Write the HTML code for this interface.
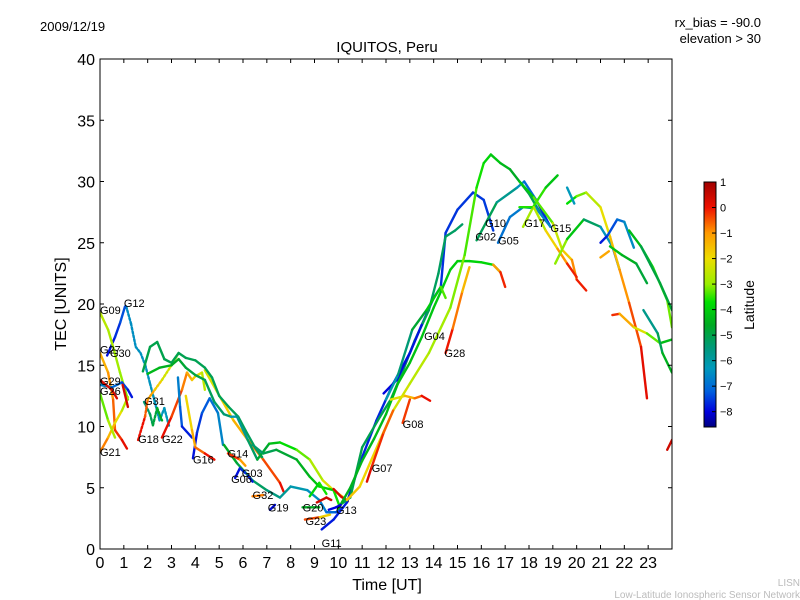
<!DOCTYPE html>
<html><head><meta charset="utf-8"><style>
body{margin:0;background:#fff;}
svg{display:block;font-family:"Liberation Sans","DejaVu Sans",sans-serif;}
</style></head><body>
<svg id="chart" width="800" height="600" viewBox="0 0 800 600">
<rect x="0" y="0" width="800" height="600" fill="#fff"/>
<text x="40" y="31" font-size="13">2009/12/19</text>
<text x="761" y="27" font-size="13" text-anchor="end">rx_bias = -90.0</text>
<text x="761" y="43" font-size="13" text-anchor="end">elevation &gt; 30</text>
<text x="387" y="52" font-size="15" text-anchor="middle">IQUITOS, Peru</text>
<text x="387" y="590" font-size="16" text-anchor="middle">Time [UT]</text>
<text transform="translate(66,304) rotate(-90)" font-size="16" text-anchor="middle">TEC [UNITS]</text>
<text x="800" y="586" font-size="10" fill="#bbb" text-anchor="end">LISN</text>
<text x="800" y="598" font-size="10" fill="#bbb" text-anchor="end">Low-Latitude Ionospheric Sensor Network</text>
<defs>
<linearGradient id="cbgrad" x1="0" y1="1" x2="0" y2="0"></linearGradient>
<clipPath id="plotclip"><rect x="100" y="59" width="572" height="490"/></clipPath>
</defs>
<g id="series" clip-path="url(#plotclip)"></g>
<g id="labels"></g>
<rect x="100" y="59" width="572" height="490" fill="none" stroke="#000" stroke-width="1"/>
<g id="axes"></g>
<rect x="704" y="182" width="12" height="245" fill="url(#cbgrad)" stroke="#000" stroke-width="1"/>
<g id="cbticks"></g>
<text transform="translate(754,305) rotate(-90)" font-size="14" text-anchor="middle">Latitude</text>
</svg>
<script>
const xTicks = [0,1,2,3,4,5,6,7,8,9,10,11,12,13,14,15,16,17,18,19,20,21,22,23];
const yTicks = [0,5,10,15,20,25,30,35,40];
const cbTicks = [1,0,-1,-2,-3,-4,-5,-6,-7,-8];
const satNames = ["G09","G12","G27","G30","G29","G26","G31","G21","G18","G22","G16","G14","G03","G06","G32","G19","G20","G23","G13","G11","G07","G08","G04","G28","G02","G10","G05","G17","G15"];
const satT = [0.0,1.0,0.0,0.42,0.0,0.0,1.85,0.0,1.6,2.6,3.9,5.35,5.95,5.5,6.4,7.04,8.5,8.62,9.9,9.3,11.4,12.7,13.6,14.45,15.75,16.16,16.7,17.8,18.9];
const satV = [19.5,20.1,16.3,16.0,13.7,12.9,12.1,7.9,9.0,9.0,7.3,7.8,6.2,5.7,4.4,3.4,3.4,2.3,3.2,0.5,6.6,10.2,17.4,16.0,25.5,26.6,25.2,26.6,26.2];

const traces = [
 {t:[1.1,1.3,1.5,1.7,1.9,2.1,2.3,2.5,2.7,2.9], v:[19.8,18.4,16.5,16.0,15.0,13.5,12.0,10.5,11.5,10.0], lat:[-6.5,-6.3], dash:true},
 {t:[0.3,0.63,0.85,1.05], v:[15.8,17.3,18.5,19.8], lat:[-8,-7.2]},
 {t:[0.0,0.34,0.55,0.84,1.05,1.17], v:[19.3,17.9,16.5,14.4,13.0,12.2], lat:[-2.6,-3.2]},
 {t:[0.0,0.34,0.55,0.63,0.92,1.13], v:[16.0,14.4,12.2,9.7,8.9,8.2], lat:[-1.5,0.3]},
 {t:[0.0,0.34,0.63,0.92,1.17], v:[7.9,9.1,10.3,11.3,12.4], lat:[-0.5,-3.0]},
 {t:[0.0,0.34,0.63], v:[12.7,10.5,9.1], lat:[-3.5,-2.5]},
 {t:[0.0,0.5,0.92,1.17,1.34], v:[13.4,13.2,13.6,13.0,12.4], lat:[-6.5,-8]},
 {t:[0.0,0.5,0.71], v:[13.8,13.0,12.3], lat:[0.2,0.4]},
 {t:[0.95,1.17], v:[13.4,11.6], lat:[0.3,0.4]},
 {t:[1.85,2.1,2.22,2.4,2.6], v:[12.0,11.0,10.1,11.5,10.5], lat:[-5.5,-4.5], dash:true},
 {t:[1.6,1.89,2.0,2.3,2.6,3.0,3.3], v:[8.9,10.8,12.2,13.0,13.8,15.0,16.0], lat:[0.3,-3.2], dash:true},
 {t:[2.6,3.0,3.44,3.65,3.86,4.0,4.28,4.4], v:[9.1,10.8,13.0,14.4,13.8,14.1,14.4,13.0], lat:[0.3,-2.8]},
 {t:[3.27,3.36,3.44,3.86], v:[14.0,11.6,10.0,9.1], lat:[-6.5,-8]},
 {t:[3.9,4.07,4.28,4.6,4.95,5.16], v:[7.4,9.5,11.1,12.3,11.1,8.5], lat:[-8,-6.5]},
 {t:[3.6,3.86,4.0,4.4,4.8], v:[12.5,9.7,8.3,7.8,7.3], lat:[-2.2,0.3]},
 {t:[4.4,5.1,5.6,6.2,6.85,7.55,7.7], v:[14.6,12.2,10.5,8.9,7.3,5.4,4.7], lat:[-2.5,0.3]},
 {t:[1.8,2.1,2.4,2.7,3.0,3.3,3.6,4.0,4.4,4.7,5.0,5.4,5.8,6.1,6.5,6.8], v:[14.5,16.5,16.9,15.5,15.2,16.0,15.6,15.4,14.8,14.0,12.5,11.6,10.8,9.7,8.3,7.5], lat:[-5,-5.2]},
 {t:[2.0,2.5,3.0,3.3,3.6,4.0,4.4,4.8,5.2,5.5], v:[14.3,14.8,15.0,15.5,14.8,14.2,13.8,12.0,11.0,10.8], lat:[-4.3,-5.5]},
 {t:[5.5,5.75,6.2,6.6,7.1,7.55,8.25,8.8,9.35,9.8,10.36], v:[10.8,10.8,8.9,7.3,8.6,8.7,8.1,7.3,5.6,4.8,4.0], lat:[-6.5,-1.5]},
 {t:[6.4,6.85,7.4,8.25,8.8,9.2,9.8,10.07], v:[8.5,7.8,8.1,7.3,5.9,5.1,4.8,3.4], lat:[-5.5,-3.5]},
 {t:[5.2,5.75,6.4,7.0,7.55,8.0,8.7,9.2,9.5,9.9,10.2], v:[8.5,7.0,5.6,4.8,4.2,5.1,4.8,4.0,3.0,3.0,3.4], lat:[-4.5,-7.5]},
 {t:[8.8,9.2,9.5], v:[4.3,5.4,4.5], lat:[-4,-3.5]},
 {t:[9.1,9.5,9.7], v:[3.8,4.2,4.0], lat:[0.4,0.4]},
 {t:[9.8,10.1,10.4], v:[4.9,4.3,3.9], lat:[0.3,0.4]},
 {t:[9.3,9.8,10.36,10.9,11.6,12.3,13.0,13.5,14.0,14.3,14.5,15.0,15.65,16.1,16.5], v:[1.6,2.4,3.8,7.0,10.5,13.5,16.0,18.3,20.5,21.4,25.8,27.7,29.1,28.5,26.0], lat:[-7.8,-7.5]},
 {t:[10.0,10.5,11.0,11.75,12.2,12.7,13.2,13.8,14.2,14.5,14.9,15.2], v:[3.5,4.2,8.3,10.8,12.2,14.5,17.0,19.5,22.5,25.5,26.0,26.5], lat:[-5,-5.3]},
 {t:[10.0,10.5,11.0,11.5,12.0,12.5,13.0,13.5,14.0,14.3,14.7,15.0,15.5,16.0,16.5,16.8], v:[3.3,5.0,7.2,9.0,11.0,13.5,15.2,17.3,19.7,21.0,22.8,23.5,23.5,23.4,23.2,22.6], lat:[-4.5,-3.8]},
 {t:[16.5,16.8,17.0], v:[23.2,22.6,21.4], lat:[-1.5,0.3]},
 {t:[11.9,12.45,13.0,13.5], v:[12.7,13.8,16.0,18.3], lat:[-8,-7.8]},
 {t:[12.0,12.5,13.1,13.7,14.3,14.5], v:[12.2,14.2,17.9,19.5,21.4,20.5], lat:[-6.5,-3]},
 {t:[10.36,10.9,11.75,12.3,13.0,13.8,14.7,15.3,15.8,16.1,16.4,16.8,17.2,17.6,18.0,18.3,18.7], v:[4.0,5.1,8.9,11.3,13.5,16.0,19.7,24.0,29.5,31.5,32.2,31.5,31.0,30.0,29.0,28.0,26.8], lat:[-1.5,-5.5]},
 {t:[11.2,11.4,11.9,12.3], v:[5.5,6.7,9.5,11.3], lat:[0.4,-0.8]},
 {t:[12.2,12.8,13.2,13.5,13.85], v:[12.2,12.5,12.3,12.5,12.1], lat:[-2.5,0.4]},
 {t:[12.7,13.0], v:[10.3,12.2], lat:[0.4,-1.0]},
 {t:[14.5,14.8,15.2,15.5], v:[16.0,18.0,21.0,23.0], lat:[0.3,-1.8]},
 {t:[15.8,16.65,17.5,17.8,18.3,18.9], v:[25.2,28.3,29.5,30.0,28.5,26.3], lat:[-4.8,-8]},
 {t:[16.7,17.2,17.75,18.3,18.9], v:[25.0,27.1,27.9,27.8,26.3], lat:[-7,-6.5]},
 {t:[17.75,18.2,18.7,19.2], v:[26.3,28.0,29.5,30.5], lat:[-2.5,-4.5]},
 {t:[17.6,18.2,19.0,19.4,19.8,20.0,20.4], v:[30.0,28.7,26.6,24.4,23.6,22.0,21.1], lat:[-4.5,0.3]},
 {t:[17.6,18.2,18.7,19.2,19.6,20.0], v:[27.9,27.9,26.0,24.5,23.3,22.2], lat:[-4,0.3]},
 {t:[19.1,19.6,20.3,21.0,21.5,21.8], v:[23.3,25.3,26.9,26.3,24.7,22.8], lat:[-2.5,-8]},
 {t:[19.6,20.0,20.4,21.0,21.4,21.8,22.2,22.7,22.95], v:[28.2,28.8,29.1,27.9,25.5,22.8,20.1,16.5,12.3], lat:[-4,0.4]},
 {t:[19.6,19.9], v:[29.5,28.2], lat:[-6.3,-6.3]},
 {t:[21.0,21.3,21.7,22.0,22.4], v:[25.0,25.6,26.9,26.7,24.6], lat:[-8,-6.3]},
 {t:[21.4,21.9,22.5,22.95], v:[24.7,24.0,23.3,21.7], lat:[-4,-5]},
 {t:[22.2,22.7,23.2,23.8,24.0], v:[26.0,24.7,23.0,20.3,18.1], lat:[-4.5,-3]},
 {t:[22.7,23.1,23.5,24.0], v:[24.7,23.2,21.7,19.5], lat:[-5,-4.8]},
 {t:[21.5,21.8,22.4,22.95,23.5,24.0], v:[19.1,19.2,18.1,17.6,16.8,17.1], lat:[0.3,-4.8]},
 {t:[22.8,23.4,23.6,24.0], v:[19.5,17.6,16.0,14.4], lat:[-6,-4.2]},
 {t:[23.8,24.0], v:[8.1,8.9], lat:[0.4,0.4]},
 {t:[21.0,21.35], v:[23.8,24.3], lat:[-1.2,-1.2]},
 {t:[5.37,5.87,6.1], v:[7.8,7.3,6.8], lat:[0.2,-1.5]},
 {t:[5.67,5.87,6.1], v:[5.8,6.6,6.2], lat:[-8,-7.5]},
 {t:[6.2,6.4], v:[6.0,5.5], lat:[-7.8,-7.8]},
 {t:[6.4,6.85], v:[4.3,4.4], lat:[-0.8,-0.8]},
 {t:[7.13,7.34], v:[3.2,3.6], lat:[-8,-7.8]},
 {t:[8.5,9.2], v:[3.4,3.4], lat:[-4.6,-4.6]},
 {t:[8.6,9.23,9.65], v:[2.4,2.6,2.8], lat:[0.3,-2.5]},
 {t:[9.6,9.9,10.1], v:[3.2,3.4,3.6], lat:[-8,-8]}
];

const X0=100, X1=672, Y0=549, Y1=59;
function xs(t){return X0+(t/24)*(X1-X0);}
function ys(v){return Y0-(v/40)*(Y0-Y1);}
const stops=[[1,"#a00000"],[0,"#ee1000"],[-1,"#ff9900"],[-2,"#eedd00"],[-3,"#99ee00"],[-3.7,"#00e000"],[-4.6,"#00aa22"],[-5.5,"#00997a"],[-6.3,"#0099bb"],[-7.2,"#0060dd"],[-8,"#0000dd"],[-8.6,"#000080"]];
function hex(h){return [1,3,5].map(i=>parseInt(h.substr(i,2),16));}
function col(l){
  if(l>=stops[0][0]) return stops[0][1];
  for(let i=0;i<stops.length-1;i++){
    const a=stops[i],b=stops[i+1];
    if(l<=a[0]&&l>=b[0]){const f=(a[0]-l)/(a[0]-b[0]);const ca=hex(a[1]),cb=hex(b[1]);
      return "rgb("+ca.map((c,k)=>Math.round(c+(cb[k]-c)*f)).join(",")+")";}
  }
  return stops[stops.length-1][1];
}
const NS="http://www.w3.org/2000/svg";
const svg=document.getElementById("chart");
const grad=document.getElementById("cbgrad");
stops.slice().reverse().forEach(s=>{const st=document.createElementNS(NS,"stop");st.setAttribute("offset",((s[0]+8.6)/9.6).toFixed(3));st.setAttribute("stop-color",s[1]);grad.appendChild(st);});

const sg=document.getElementById("series");
traces.forEach((tr,i)=>{
  const g=document.createElementNS(NS,"g");
  
  
  const n=tr.t.length;
  for(let k=0;k<n-1;k++){
    const f=(k+0.5)/(n-1);
    const l=tr.lat[0]+(tr.lat[1]-tr.lat[0])*f;
    const ln=document.createElementNS(NS,"line");
    ln.setAttribute("x1",xs(tr.t[k]));ln.setAttribute("y1",ys(tr.v[k]));
    ln.setAttribute("x2",xs(tr.t[k+1]));ln.setAttribute("y2",ys(tr.v[k+1]));
    ln.setAttribute("stroke",col(l));ln.setAttribute("stroke-width","2.4");
    ln.setAttribute("stroke-linecap","round");
    if(tr.dash) ln.setAttribute("stroke-dasharray","2 2");
    
    
    g.appendChild(ln);
  }
  sg.appendChild(g);
});

const lg=document.getElementById("labels");
satNames.forEach((nm,i)=>{
  const tx=document.createElementNS(NS,"text");
  tx.setAttribute("x",xs(satT[i]));tx.setAttribute("y",ys(satV[i])+4);
  tx.setAttribute("font-size","11");
  tx.textContent=nm;
  
  
  lg.appendChild(tx);
});

const ax=document.getElementById("axes");
function mk(tag,attrs,txt){const e=document.createElementNS(NS,tag);for(const k in attrs)e.setAttribute(k,attrs[k]);if(txt!==undefined)e.textContent=txt;return e;}
xTicks.forEach(t=>{
  const x=xs(t);
  const a=mk("line",{x1:x,y1:Y0,x2:x,y2:Y0-4,stroke:"#000"});
  
  
  ax.appendChild(a);
  const b=mk("line",{x1:x,y1:Y1,x2:x,y2:Y1+4,stroke:"#000"});
  
  
  ax.appendChild(b);
  const l=mk("text",{x:x,y:Y0+19,"font-size":"16","text-anchor":"middle"},String(t));
  
  
  ax.appendChild(l);
});
yTicks.forEach(v=>{
  const y=ys(v);
  const a=mk("line",{x1:X0,y1:y,x2:X0+4,y2:y,stroke:"#000"});
  
  
  ax.appendChild(a);
  const b=mk("line",{x1:X1,y1:y,x2:X1-4,y2:y,stroke:"#000"});
  
  
  ax.appendChild(b);
  const l=mk("text",{x:X0-5,y:y+6,"font-size":"16","text-anchor":"end"},String(v));
  
  
  ax.appendChild(l);
});
const cb=document.getElementById("cbticks");
cbTicks.forEach(v=>{
  const y=427-((v+8.6)/9.6)*245;
  const a=mk("line",{x1:712,y1:y,x2:716,y2:y,stroke:"#000"});
  
  
  cb.appendChild(a);
  const l=mk("text",{x:720,y:y+4,"font-size":"11"},v<0?"\u2212"+Math.abs(v):String(v));
  
  
  cb.appendChild(l);
});
</script>
</body></html>
